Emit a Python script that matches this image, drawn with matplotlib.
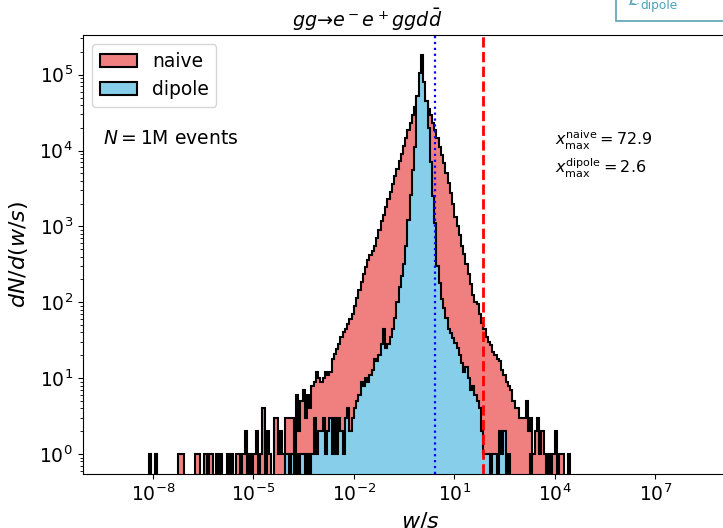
import numpy as np
import matplotlib.pyplot as plt
from matplotlib.patches import Rectangle

# histogram counts: 15 log bins per decade,
# one row per decade, starting at 10^-9 and ending at 10^5
first_decade = -9
bins_per_decade = 15

naive_counts = [
    [0, 0, 0, 0, 0, 0, 0, 0, 0, 0, 0, 0, 0, 1, 0],                       # 1e-9
    [0, 1, 0, 0, 0, 0, 0, 0, 0, 0, 0, 1, 1, 1, 0],                       # 1e-8
    [0, 0, 0, 0, 1, 1, 0, 0, 1, 0, 1, 1, 0, 1, 0],                       # 1e-7
    [1, 0, 0, 1, 0, 1, 0, 1, 1, 0, 1, 2, 0, 1, 0],                       # 1e-6
    [1, 2, 0, 1, 4, 0, 2, 1, 0, 3, 3, 1, 2, 1, 3],                       # 1e-5
    [3, 3, 3, 1, 6, 2, 5, 7, 3, 6, 4, 8, 9, 12, 10],                     # 1e-4
    [9, 10, 12, 11, 12, 18, 21, 24, 28, 35, 40, 45, 52, 60, 71],         # 1e-3
    [89, 115, 145, 186, 234, 290, 360, 420, 480, 560, 710, 890, 1170, 1410, 1780],
    [2290, 2880, 3630, 4570, 5750, 7200, 9100, 11500, 14500, 18600, 23400, 29500, 37000, 47000, 59000],
    [76000, 56000, 45000, 35500, 29000, 23000, 18600, 14500, 11200, 8700, 6900, 5000, 3700, 2750, 2000],
    [1320, 1000, 760, 560, 430, 316, 234, 174, 126, 100, 95, 71, 54, 44, 35],
    [30, 27, 22, 20, 18, 17, 13, 11, 9, 8, 7, 5, 4, 4, 3],               # 1e2
    [3, 3, 5, 2, 3, 1, 2, 3, 1, 2, 1, 0, 1, 0, 1],                       # 1e3
    [2, 0, 1, 1, 0, 0, 1, 0, 0, 0, 0, 0, 0, 0, 0],                       # 1e4
]

dipole_counts = [
    [0, 0, 0, 0, 0, 0, 0, 0, 0, 0, 0, 0, 0, 0, 0],
    [0, 0, 0, 0, 0, 0, 0, 0, 0, 0, 0, 0, 0, 0, 0],
    [0, 0, 0, 0, 0, 0, 0, 0, 0, 0, 0, 0, 0, 0, 0],
    [0, 0, 0, 0, 0, 0, 0, 0, 0, 0, 0, 0, 0, 0, 0],
    [0, 0, 0, 0, 0, 0, 0, 0, 0, 0, 0, 0, 0, 0, 1],
    [1, 0, 1, 0, 1, 0, 1, 1, 0, 1, 0, 1, 3, 1, 2],
    [2, 3, 1, 2, 3, 1, 3, 1, 3, 2, 1, 3, 4, 2, 3],
    [4, 5, 6, 9, 8, 10, 9, 11, 13, 18, 17, 20, 28, 44, 25],
    [28, 35, 45, 63, 100, 160, 220, 320, 560, 1200, 2600, 5600, 11000, 52000, 105000],
    [182000, 80000, 45000, 20000, 7000, 2500, 1100, 300, 180, 110, 85, 63, 44, 39, 34],
    [29, 25, 20, 16, 12, 14, 10, 7, 8, 6, 5, 4, 2, 1, 1],
    [1, 0, 1, 1, 0, 2, 1, 2, 0, 1, 0, 0, 0, 0, 0],
    [0, 0, 0, 0, 1, 0, 0, 0, 0, 0, 0, 0, 0, 0, 0],
    [0, 0, 0, 0, 0, 0, 0, 0, 0, 0, 0, 0, 0, 0, 0],
]

xmax_naive = 72.9
xmax_dipole = 2.6
n_events = 1   # in millions

n_dec = len(naive_counts)
edges = 10.0 ** (np.arange(first_decade * bins_per_decade,
                           (first_decade + n_dec) * bins_per_decade + 1) / bins_per_decade)
centers = np.sqrt(edges[:-1] * edges[1:])
naive = np.concatenate(naive_counts)
dipole = np.concatenate(dipole_counts)

fig = plt.figure(figsize=(7.23, 5.28), dpi=100)
ax = fig.add_axes([0.1144, 0.1023, 0.9353, 0.8314])
ax.set_yscale('log')
ax.set_xscale('log')

ax.hist(centers, bins=edges, weights=naive, histtype='stepfilled',
        facecolor='lightcoral', edgecolor='black', linewidth=1.5, label='naive')
ax.hist(centers, bins=edges, weights=dipole, histtype='stepfilled',
        facecolor='skyblue', edgecolor='black', linewidth=1.5, label='dipole')

ax.axvline(xmax_dipole, color='blue', linestyle=':', linewidth=1.6)
ax.axvline(xmax_naive, color='red', linestyle='--', linewidth=2)

ax.set_xlim(10 ** -10.1, 10 ** 10.1)
ax.set_ylim(10 ** -0.263, 10 ** 5.523)
ax.set_xticks([1e-8, 1e-5, 1e-2, 1e1, 1e4, 1e7])
ax.xaxis.set_minor_locator(plt.NullLocator())
ax.tick_params(labelsize=13.5)

ax.set_xlabel(r'$w/s$', fontsize=16)
ax.set_ylabel(r'$dN/d(w/s)$', fontsize=16, labelpad=7)

ax.legend(loc='upper left', fontsize=13.5)

fig.text(103 / 723, 1 - 144 / 528, r'$N = %d$M events' % n_events, fontsize=13.5, va='baseline')
fig.text(555 / 723, 1 - 145 / 528, r'$x_{\rm max}^{\rm naive} = %.1f$' % xmax_naive, fontsize=11.5, va='baseline')
fig.text(555 / 723, 1 - 173 / 528, r'$x_{\rm max}^{\rm dipole} = %.1f$' % xmax_dipole, fontsize=11.5, va='baseline')

fig.text(367 / 723, 1 - 27 / 528, r'$gg→e^- e^+ g g d \bar{d}$', fontsize=13.8, ha='center', va='baseline')

# piece of a neighbouring panel that sits in the top right corner
fig.patches.append(Rectangle((616 / 723, 1 - 21 / 528), 0.3, 0.2, transform=fig.transFigure,
                             facecolor='white', edgecolor='#5aa3b3', linewidth=1.2))
fig.text(627 / 723, 1 - 5 / 528, r'$\mathcal{L}$', fontsize=12.5, color='#4aa3b8', va='baseline')
fig.text(640 / 723, 1 - 8.5 / 528, 'dipole', fontsize=8.8, color='#4aa3b8', va='baseline')

fig.savefig('out.png', dpi=100)
